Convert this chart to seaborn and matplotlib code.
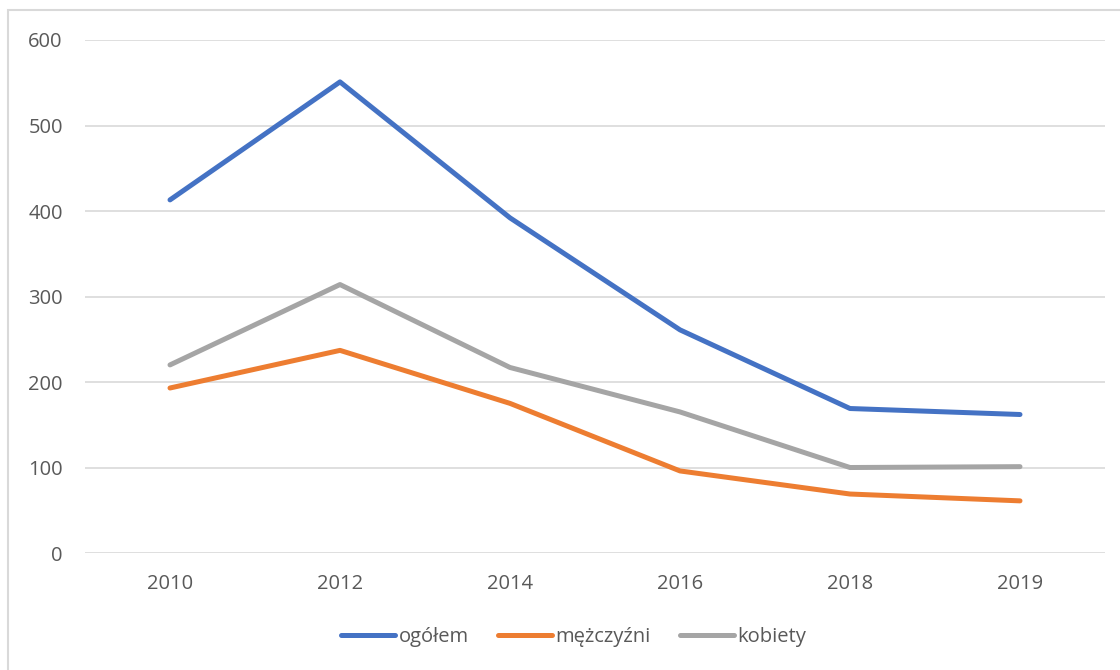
import pandas as pd
import matplotlib
matplotlib.use("Agg")
import matplotlib.pyplot as plt
import seaborn as sns
from matplotlib.patches import Rectangle

# data
years = ["2010", "2012", "2014", "2016", "2018", "2019"]
ogolem = [413, 551, 392, 261, 169, 162]
mezczyzni = [193, 237, 175, 96, 69, 61]
kobiety = [220, 314, 217, 165, 100, 101]
series_names = ["ogółem", "mężczyźni", "kobiety"]
y_ticks = [0, 100, 200, 300, 400, 500, 600]

colors = ["#4472C4", "#ED7D31", "#A5A5A5"]

df = pd.DataFrame({
    "rok": years * 3,
    "wartosc": ogolem + mezczyzni + kobiety,
    "seria": [series_names[0]] * 6 + [series_names[1]] * 6 + [series_names[2]] * 6,
})

sns.set_style("white")
plt.rcParams["font.family"] = ["Open Sans", "DejaVu Sans"]

fig = plt.figure(figsize=(11.2, 6.7), dpi=100)
ax = fig.add_axes([0.0759, 0.1746, 0.9107, 0.7657])

sns.lineplot(data=df, x="rok", y="wartosc", hue="seria", palette=colors,
             sort=False, linewidth=3.6, ax=ax, legend=True)
for line in ax.lines:
    line.set_solid_capstyle("round")
    line.set_solid_joinstyle("round")

ax.set_xlim(-0.5, len(years) - 0.5)
ax.set_ylim(0, 600)
ax.set_yticks(y_ticks)
ax.set_yticklabels([str(t) for t in y_ticks])
ax.yaxis.grid(True, color="#D9D9D9", linewidth=1.2)
ax.set_axisbelow(True)
ax.set_xlabel("")
ax.set_ylabel("")
for s in ax.spines.values():
    s.set_visible(False)
ax.tick_params(axis="both", length=0, labelsize=14.5, labelcolor="#595959")
ax.tick_params(axis="y", pad=16)
ax.tick_params(axis="x", pad=15)

handles, labels = ax.get_legend_handles_labels()
ax.get_legend().remove()
leg = fig.legend(handles, labels, loc="center", bbox_to_anchor=(0.512, 0.049),
                 ncol=3, frameon=False, fontsize=14.5, handlelength=2.7,
                 handletextpad=0.15, columnspacing=1.45)
for t in leg.get_texts():
    t.set_color("#595959")
for h in leg.get_lines():
    h.set_linewidth(3.6)
    h.set_solid_capstyle("round")

# chart frame like the Excel chart area
fig.patches.append(Rectangle((8 / 1120, -0.1), 1.2, 1.1 - 10 / 670,
                             transform=fig.transFigure, fill=False,
                             edgecolor="#D9D9D9", linewidth=1.5))

fig.savefig("out.png", dpi=100)
